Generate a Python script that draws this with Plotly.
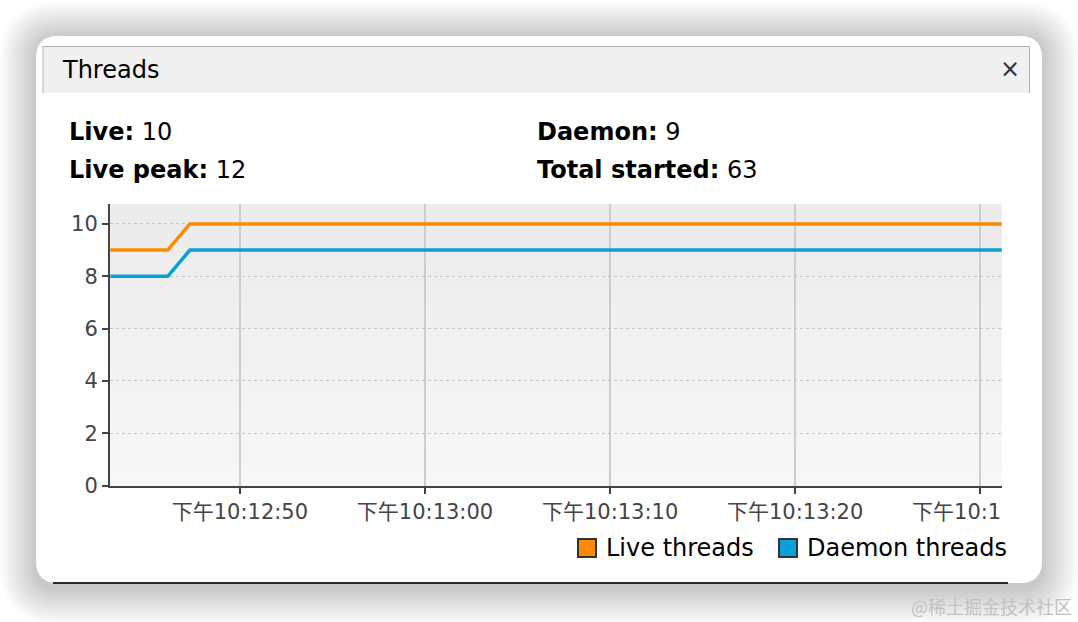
"""JConsole-style Threads panel recreated with Plotly."""

import plotly.graph_objects as go

W, H = 1078, 622

# Sample times and thread counts.
times = ["2023-01-01 22:12:43.0", "2023-01-01 22:12:46.1",
         "2023-01-01 22:12:47.3", "2023-01-01 22:13:31.2"]
live_threads = [9, 9, 10, 10]
daemon_threads = [8, 8, 9, 9]

tick_times = ["2023-01-01 22:12:50", "2023-01-01 22:13:00", "2023-01-01 22:13:10",
              "2023-01-01 22:13:20", "2023-01-01 22:13:30"]
tick_labels = ["下午10:12:50", "下午10:13:00", "下午10:13:10", "下午10:13:20",
               "下午10:1<span style='fill:rgba(0,0,0,0)'>3:30</span>"]

series_names = ["Live threads", "Daemon threads"]
stats = [("Live:", "10"), ("Live peak:", "12"), ("Daemon:", "9"), ("Total started:", "63")]

COLOURS = {
    "Live threads": "#fb8a00",
    "Daemon threads": "#0a9fd8",
    "axis": "#444444",
    "grid": "#cdcdcd",
}

FONT = "DejaVu Sans, Noto Sans CJK SC, sans-serif"


def fx(p):
    return p / W


def fy(p):
    return 1 - p / H


def rounded_path(x0, y0, x1, y1, r):
    pts = [
        ("M", [(x0 + r, y0)]), ("L", [(x1 - r, y0)]), ("Q", [(x1, y0), (x1, y0 + r)]),
        ("L", [(x1, y1 - r)]), ("Q", [(x1, y1), (x1 - r, y1)]),
        ("L", [(x0 + r, y1)]), ("Q", [(x0, y1), (x0, y1 - r)]),
        ("L", [(x0, y0 + r)]), ("Q", [(x0, y0), (x0 + r, y0)]),
    ]
    out = []
    for cmd, coords in pts:
        out.append(cmd + " " + " ".join(f"{fx(a):.5f},{fy(b):.5f}" for a, b in coords))
    return " ".join(out) + " Z"


def rect(x0, y0, x1, y1, fill, layer="below", line=None):
    return dict(type="rect", xref="paper", yref="paper", layer=layer,
                x0=fx(x0), x1=fx(x1), y0=fy(y1), y1=fy(y0),
                fillcolor=fill, line=line or dict(width=0))


def hline(x0, x1, y, colour, width, layer="below"):
    return dict(type="line", xref="paper", yref="paper", layer=layer,
                x0=fx(x0), x1=fx(x1), y0=fy(y), y1=fy(y),
                line=dict(color=colour, width=width))


def vline(x, y0, y1, colour, width, layer="below"):
    return dict(type="line", xref="paper", yref="paper", layer=layer,
                x0=fx(x), x1=fx(x), y0=fy(y0), y1=fy(y1),
                line=dict(color=colour, width=width))


shapes = []

# Soft window shadow.
for i in range(18, 0, -1):
    g = 2 * i
    shapes.append(dict(type="path", xref="paper", yref="paper", layer="below",
                       path=rounded_path(36 - g, 38 - g, 1042 + g, 588 + g, 22 + g),
                       fillcolor="rgba(0,0,0,0.013)", line=dict(width=0)))

# Window body.
shapes.append(dict(type="path", xref="paper", yref="paper", layer="below",
                   path=rounded_path(36, 36, 1042, 583, 22),
                   fillcolor="#ffffff", line=dict(width=0)))
shapes.append(hline(53, 1008, 583, "#2b2b2b", 2))

# Tab header.
shapes.append(rect(43, 46, 1030, 93, "#f0f0f0"))
shapes.append(hline(43, 1030, 46.5, "#b4b4b4", 1))
shapes.append(vline(43, 46, 93, "#b4b4b4", 1))
shapes.append(vline(1029.5, 46, 93, "#b4b4b4", 1))

# Plot background gradient.
top, bottom, n = 204, 486, 14
for i in range(n):
    c = int(236 + (247 - 236) * i / (n - 1))
    y0 = top + (bottom - top) * i / n
    y1 = top + (bottom - top) * (i + 1) / n + 1
    shapes.append(rect(110, y0, 1002, min(y1, bottom), f"rgb({c},{c},{c})"))

annotations = [
    dict(text="Threads", x=fx(60), y=fy(70), font=dict(size=24, color="#000000")),
    dict(text="×", x=fx(1010), y=fy(69), xanchor="center",
         font=dict(size=24, color="#333333")),
    dict(text="@稀土掘金技术社区", x=fx(991), y=fy(606), xanchor="center",
         font=dict(size=18, color="#c2c2c2", family="Noto Sans CJK SC")),
]
positions = [(67, 132), (67, 170), (535, 132), (535, 170)]
for (label, value), (px, py) in zip(stats, positions):
    annotations.append(dict(text=f"<b>{label}</b> {value}", x=fx(px), y=fy(py),
                            font=dict(size=24, color="#000000")))

# Legend: square swatch plus label, placed under the plot on the right.
for name, sx in zip(series_names, [578, 779]):
    shapes.append(rect(sx, 539, sx + 18, 557, COLOURS[name], layer="above",
                       line=dict(color="#333333", width=2)))
    annotations.append(dict(text=name, x=fx(sx + 26), y=fy(548),
                            font=dict(size=24, color="#000000")))

for a in annotations:
    a.setdefault("xanchor", "left")
    a.update(xref="paper", yref="paper", yanchor="middle", showarrow=False)

fig = go.Figure()
for name, values in zip(series_names, [live_threads, daemon_threads]):
    fig.add_trace(go.Scatter(x=times, y=values, mode="lines", name=name,
                             line=dict(color=COLOURS[name], width=3.5)))

fig.update_layout(
    width=W, height=H,
    margin=dict(l=0, r=0, t=0, b=0, pad=0),
    autosize=False,
    showlegend=False,
    paper_bgcolor="#ffffff",
    plot_bgcolor="rgba(0,0,0,0)",
    font=dict(family=FONT, color="#444444"),
    shapes=shapes,
    annotations=annotations,
    xaxis=dict(
        domain=[fx(110), fx(1001.7)],
        range=["2023-01-01 22:12:42.98", "2023-01-01 22:13:31.16"],
        tickvals=tick_times, ticktext=tick_labels,
        tickfont=dict(size=21, color="#444444"),
        showline=True, linecolor=COLOURS["axis"], linewidth=2,
        ticks="outside", ticklen=6, tickwidth=2, tickcolor=COLOURS["axis"],
        showgrid=True, gridcolor=COLOURS["grid"], gridwidth=2,
        zeroline=False, fixedrange=True, automargin=False,
    ),
    yaxis=dict(
        domain=[fy(485.7), fy(204)],
        range=[0, 10.76],
        tickvals=[0, 2, 4, 6, 8, 10],
        tickfont=dict(size=21, color="#444444"),
        showline=True, linecolor=COLOURS["axis"], linewidth=2,
        ticks="outside", ticklen=6, tickwidth=2, tickcolor=COLOURS["axis"],
        showgrid=True, gridcolor="#c4c4c4", gridwidth=1, griddash="dot",
        zeroline=False, fixedrange=True, automargin=False,
    ),
)

fig.write_html("out.html", config={"displayModeBar": False},
               post_script="document.body.style.margin='0';"
                           "document.body.style.overflow='hidden';")
